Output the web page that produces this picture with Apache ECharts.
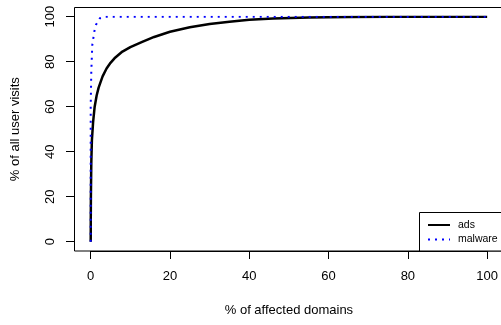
<!DOCTYPE html>
<html>
<head>
<meta charset="utf-8">
<script src="https://cdn.jsdelivr.net/npm/echarts@6/dist/echarts.min.js"></script>
<style>
html,body{margin:0;padding:0;background:#fff;}
#chart{width:501px;height:325px;}
</style>
</head>
<body>
<div id="chart"></div>
<script>
// Data
var xTicks = [0, 20, 40, 60, 80, 100];
var yTicks = [0, 20, 40, 60, 80, 100];
var adsX = [0, 0.02, 0.05, 0.15, 0.3, 0.6, 1.0, 1.5, 2, 3, 4, 5, 6, 8, 10, 13, 16, 20, 25, 30, 35, 40, 46, 55, 65, 75, 100];
var adsY = [0, 10, 20, 35, 45, 53, 60, 65, 68.5, 73.5, 77, 79.5, 81.5, 84.5, 86.5, 88.8, 91, 93.3, 95.3, 96.8, 97.8, 98.6, 99.2, 99.6, 99.9, 100, 100];
var malX = [0, 0, 0.15, 0.4, 0.9, 1.3, 2.3, 3.6, 100];
var malY = [0, 60, 75.6, 87.4, 93.3, 96.3, 99.3, 100, 100];
var seriesNames = ['ads', 'malware'];
var xTitle = '% of affected domains';
var yTitle = '% of all user visits';

function zip(a, b) { return a.map(function (v, i) { return [v, b[i]]; }); }

var FONT = 'Liberation Sans, Arial, Helvetica, sans-serif';
var chart = echarts.init(document.getElementById('chart'), null, {renderer: 'canvas'});
chart.setOption({
  animation: false,
  backgroundColor: '#fff',
  grid: {left: 90.7, top: 16.7, width: 396.6, height: 225},
  xAxis: {
    type: 'value', min: 0, max: 100, interval: 20, offset: 9.3,
    axisLine: {show: true, onZero: false, lineStyle: {color: '#000', width: 1}},
    axisTick: {show: true, length: 8, lineStyle: {color: '#000'}},
    axisLabel: {show: true, margin: 19, color: '#000', fontSize: 13, fontFamily: FONT,
      formatter: function (v) { return xTicks.indexOf(v) >= 0 ? String(v) : ''; }},
    splitLine: {show: false},
    name: xTitle, nameLocation: 'middle', nameGap: 53,
    nameTextStyle: {color: '#000', fontSize: 13, fontFamily: FONT}
  },
  yAxis: {
    type: 'value', min: 0, max: 100, interval: 20, offset: 16.7,
    axisLine: {show: true, onZero: false, lineStyle: {color: '#000', width: 1}},
    axisTick: {show: true, length: 8, lineStyle: {color: '#000'}},
    axisLabel: {show: true, margin: 17, rotate: 90, color: '#000', fontSize: 13, fontFamily: FONT,
      formatter: function (v) { return yTicks.indexOf(v) >= 0 ? String(v) : ''; }},
    splitLine: {show: false},
    name: yTitle, nameLocation: 'middle', nameGap: 52,
    nameTextStyle: {color: '#000', fontSize: 13, fontFamily: FONT}
  },
  graphic: [
    {type: 'rect', shape: {x: 74.5, y: 7.5, width: 429, height: 243.5}, style: {fill: null, stroke: '#000', lineWidth: 1}, silent: true, z: 10},
    {type: 'rect', shape: {x: 419.5, y: 212.5, width: 90, height: 38.5}, style: {fill: '#fff', stroke: '#000', lineWidth: 1}, z: 20},
    {type: 'line', shape: {x1: 428, y1: 225, x2: 450, y2: 225}, style: {stroke: '#000', lineWidth: 2}, z: 21},
    {type: 'line', shape: {x1: 428, y1: 239.5, x2: 450, y2: 239.5}, style: {stroke: '#0000ff', lineWidth: 2, lineDash: [2, 5]}, z: 21},
    {type: 'text', x: 458, y: 225, style: {text: seriesNames[0], fill: '#000', font: '10.5px ' + FONT, textVerticalAlign: 'middle', verticalAlign: 'middle'}, z: 21},
    {type: 'text', x: 458, y: 239.5, style: {text: seriesNames[1], fill: '#000', font: '10.5px ' + FONT, textVerticalAlign: 'middle', verticalAlign: 'middle'}, z: 21}
  ],
  series: [
    {name: seriesNames[0], type: 'line', data: zip(adsX, adsY), showSymbol: false, smooth: false,
      lineStyle: {color: '#000', width: 2.5}, z: 3},
    {name: seriesNames[1], type: 'line', data: zip(malX, malY), showSymbol: false, smooth: false,
      lineStyle: {color: '#0000ff', width: 2, type: [2, 5]}, z: 4}
  ]
});
</script>
</body>
</html>
